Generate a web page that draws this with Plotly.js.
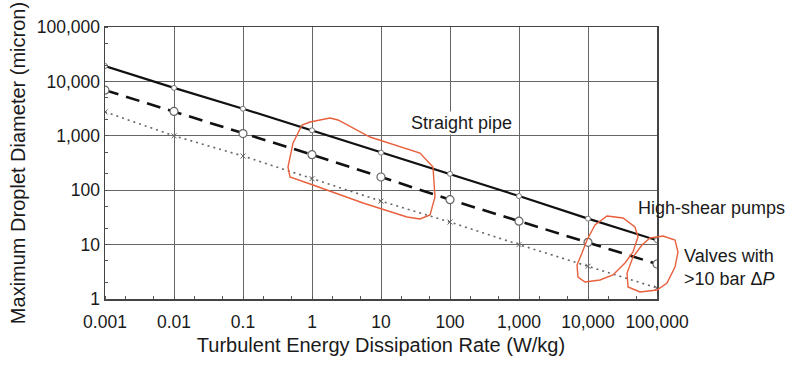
<!DOCTYPE html>
<html>
<head>
<meta charset="utf-8">
<script src="https://cdn.plot.ly/plotly-3.0.1.min.js"></script>
<style>html,body{margin:0;padding:0;background:#fff;}#chart{width:800px;height:374px;}</style>
</head>
<body>
<div id="chart"></div>
<script>
// Data
const dissipationRate = [0.001, 0.01, 0.1, 1, 10, 100, 1000, 10000, 100000];
const straightPipe = [19200, 7600, 3150, 1260, 490, 200, 78, 30, 12];
const highShearPumps = [6900, 2800, 1100, 450, 175, 67, 27, 11, 4.4];
const valves = [2750, 1000, 425, 163, 63, 26, 10, 4, 1.6];
const xTickVals = [0.001, 0.01, 0.1, 1, 10, 100, 1000, 10000, 100000];
const xTickText = ["0.001", "0.01", "0.1", "1", "10", "100", "1,000", "10,000", "100,000"];
const yTickVals = [1, 10, 100, 1000, 10000, 100000];
const yTickText = ["1", "10", "100", "1,000", "10,000", "100,000"];

const FONT = "Liberation Sans, Arial, Helvetica, sans-serif";
const TXT = "#1a1a1a";

const traces = [
  {x: dissipationRate, y: straightPipe, type: "scatter", mode: "lines+markers",
   line: {color: "#111", width: 2.2},
   marker: {symbol: "circle", size: 5, color: "#fff", line: {width: 1, color: "#777"}}},
  {x: dissipationRate, y: highShearPumps, type: "scatter", mode: "lines+markers",
   line: {color: "#111", width: 2.6, dash: "14px,8px"},
   marker: {symbol: "circle", size: 8, color: "#fff", line: {width: 1.2, color: "#666"}}},
  {x: dissipationRate, y: valves, type: "scatter", mode: "lines+markers",
   line: {color: "#666", width: 1.6, dash: "2px,4px"},
   marker: {symbol: "x-thin", size: 5, color: "#666", line: {width: 1, color: "#666"}}}
];

// hand-drawn red outlines (pixel positions converted to paper coords)
const L = 105, R = 657, T = 27, B = 299;
function pathFrom(pts) {
  const p = pts.map(([px, py]) => [((px - L) / (R - L)).toFixed(4), ((B - py) / (B - T)).toFixed(4)]);
  return "M" + p.map(q => q.join(",")).join(" L") + " Z";
}
const outline1 = [[330,118],[338,120],[370,137],[420,153],[433,167],[435,197],[430,215],[420,219],[407,217],[363,203],[313,185],[290,177],[288,167],[293,143],[302,125],[310,122]];
const outline2 = [[607,216],[623,218],[635,227],[638,237],[633,252],[625,263],[613,275],[600,280],[585,282],[578,277],[577,265],[582,253],[587,240],[595,225]];
const outline3 = [[650,238],[663,236],[675,240],[678,252],[675,267],[667,283],[657,290],[640,292],[628,287],[627,273],[633,257],[642,245]];
const shapes = [outline1, outline2, outline3].map(o => ({
  type: "path", xref: "paper", yref: "paper", path: pathFrom(o),
  line: {color: "#e8603c", width: 1.4}, fillcolor: "rgba(0,0,0,0)", layer: "above"
}));

const layout = {
  width: 800, height: 374,
  margin: {l: 105, r: 143, t: 27, b: 75},
  paper_bgcolor: "#fff", plot_bgcolor: "#fff",
  showlegend: false,
  font: {family: FONT, color: TXT, size: 17},
  xaxis: {
    type: "log", range: [-3, 5],
    tickvals: xTickVals, ticktext: xTickText,
    tickfont: {size: 17.5, family: FONT, color: TXT},
    ticklabelstandoff: 6,
    showgrid: true, gridcolor: "#666", gridwidth: 1,
    showline: true, linecolor: "#444", linewidth: 1.5, mirror: true,
    ticks: "", zeroline: false,
    minor: {ticks: "inside", ticklen: 3, tickcolor: "#555", showgrid: false},
    title: {text: "Turbulent Energy Dissipation Rate (W/kg)", font: {size: 20, family: FONT, color: TXT}, standoff: 7}
  },
  yaxis: {
    type: "log", range: [0, 5],
    tickvals: yTickVals, ticktext: yTickText,
    tickfont: {size: 17.5, family: FONT, color: TXT},
    showgrid: true, gridcolor: "#666", gridwidth: 1,
    showline: true, linecolor: "#444", linewidth: 1.5, mirror: true,
    ticks: "", zeroline: false,
    minor: {ticks: "inside", ticklen: 3, tickcolor: "#555", showgrid: false},
    title: {text: "Maximum Droplet Diameter (micron)", font: {size: 20, family: FONT, color: TXT}, standoff: 5}
  },
  shapes: shapes,
  annotations: [
    {text: "Straight pipe", xref: "paper", yref: "paper", x: (461 - L) / (R - L), y: (B - 123) / (B - T),
     xanchor: "center", yanchor: "middle",
     showarrow: false, font: {size: 18, family: FONT, color: TXT}, bgcolor: "#fff"},
    {text: "High-shear pumps", xref: "paper", yref: "paper", x: (636 - L) / (R - L), y: (B - 208) / (B - T),
     xanchor: "left", yanchor: "middle", showarrow: false, font: {size: 18, family: FONT, color: TXT}},
    {text: "Valves with<br>>10 bar Δ<i>P</i>", xref: "paper", yref: "paper", x: (682 - L) / (R - L), y: (B - 267) / (B - T),
     xanchor: "left", yanchor: "middle", align: "left", showarrow: false, font: {size: 18, family: FONT, color: TXT}}
  ]
};

Plotly.newPlot("chart", traces, layout, {displayModeBar: false, staticPlot: true});
</script>
</body>
</html>
